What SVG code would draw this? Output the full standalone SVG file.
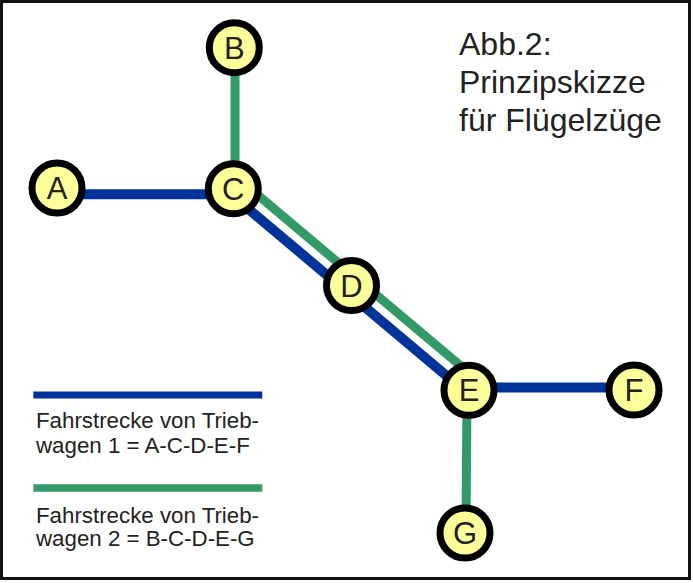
<svg xmlns="http://www.w3.org/2000/svg" width="693" height="583" viewBox="0 0 693 583">
<style>
.blue{stroke:#003399;stroke-width:10;fill:none}
.green{stroke:#339966;stroke-width:9;fill:none}
.node circle{fill:#ffff99;stroke:#000;stroke-width:7}
.node text{font-family:"Liberation Sans",Arial,sans-serif;font-size:31px;fill:#222;text-anchor:middle}
.t{font-family:"Liberation Sans",Arial,sans-serif;fill:#222}
</style>
<rect x="0" y="0" width="693" height="583" fill="#fff"/>
<rect x="1.5" y="1.5" width="688" height="577" fill="#fff" stroke="#111" stroke-width="3"/>
<g id="connectors">
<line class="blue" x1="57" y1="194.3" x2="233" y2="194.3"/>
<line class="blue" x1="233" y1="196" x2="469" y2="394.7"/>
<line class="blue" x1="469" y1="387.5" x2="634" y2="387.5"/>
<line class="green" x1="235" y1="48" x2="235" y2="189"/>
<line class="green" x1="233" y1="174.2" x2="469" y2="372.9"/>
<line class="green" x1="467" y1="390" x2="466" y2="533"/>
</g>
<g id="A" class="node"><circle cx="57" cy="188" r="25"/><text x="57" y="199">A</text></g>
<g id="B" class="node"><circle cx="234.3" cy="47.7" r="25"/><text x="234.3" y="58.7">B</text></g>
<g id="C" class="node"><circle cx="233.3" cy="188.8" r="25"/><text x="233.3" y="199.8">C</text></g>
<g id="D" class="node"><circle cx="351.5" cy="285.5" r="25"/><text x="351.5" y="296.5">D</text></g>
<g id="E" class="node"><circle cx="469" cy="390.3" r="25"/><text x="469" y="401.3">E</text></g>
<g id="F" class="node"><circle cx="634" cy="390" r="25"/><text x="634" y="401">F</text></g>
<g id="G" class="node"><circle cx="465" cy="533" r="25"/><text x="465" y="544">G</text></g>
<g id="title">
<text class="t" x="459" y="55" font-size="32">Abb.2:</text>
<text class="t" x="459" y="93" font-size="32">Prinzipskizze</text>
<text class="t" x="459" y="131" font-size="32">für Flügelzüge</text>
</g>
<g id="legend">
<line x1="33.3" y1="395" x2="262.3" y2="395" stroke="#003399" stroke-width="7"/>
<text class="t" x="36" y="428.3" font-size="22.3">Fahrstrecke von Trieb-</text>
<text class="t" x="36" y="452.7" font-size="22.3">wagen 1 = A-C-D-E-F</text>
<line x1="33.3" y1="488" x2="262.3" y2="488" stroke="#339966" stroke-width="7.5"/>
<text class="t" x="36" y="522.7" font-size="22.3">Fahrstrecke von Trieb-</text>
<text class="t" x="36" y="546" font-size="22.3">wagen 2 = B-C-D-E-G</text>
</g>
</svg>
